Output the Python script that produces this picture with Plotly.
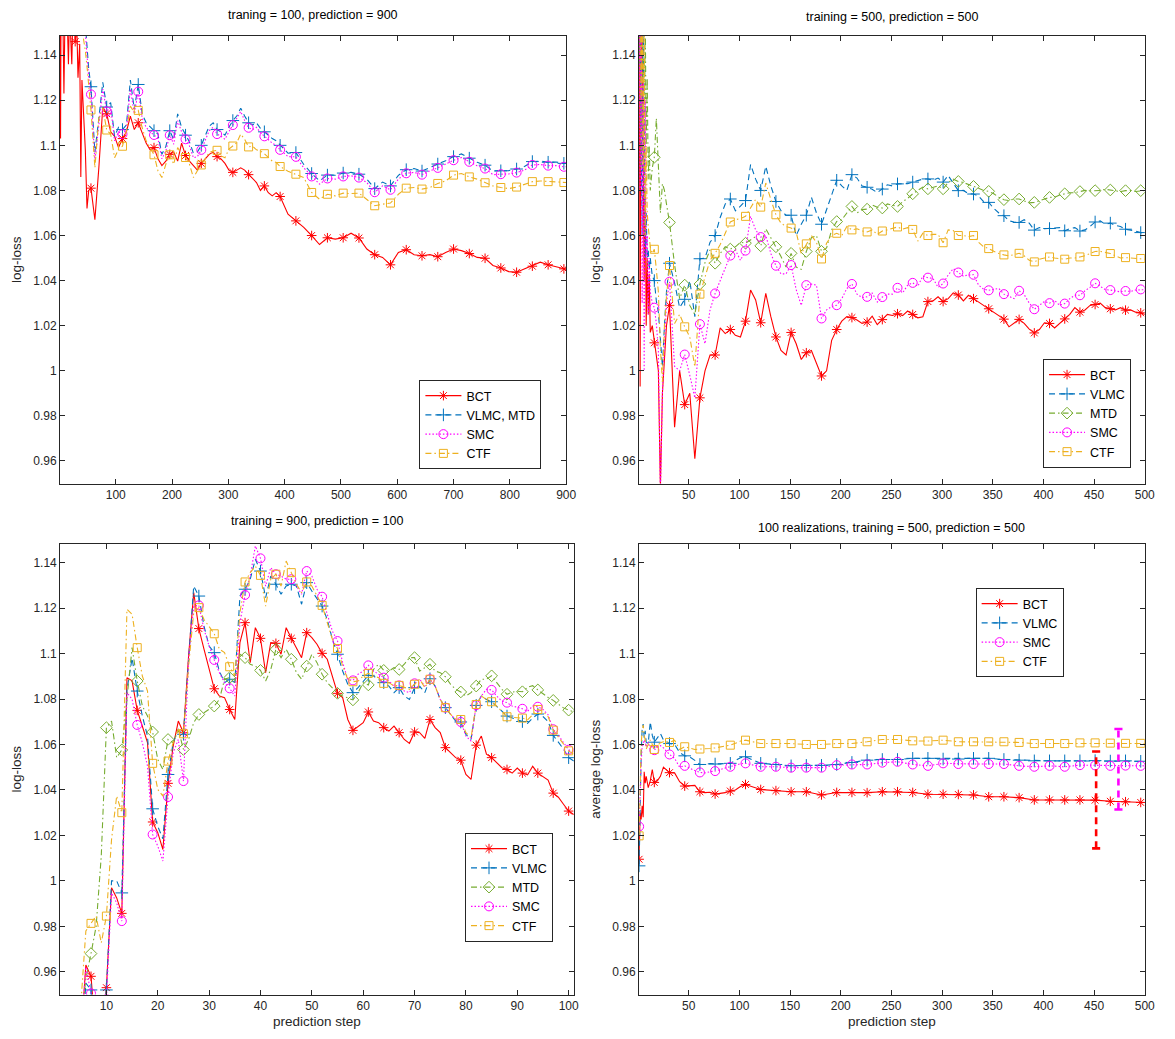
import plotly.graph_objects as go

# ---------------- tick marks ----------------
y_ticks = [0.96, 0.98, 1.0, 1.02, 1.04, 1.06, 1.08, 1.1, 1.12, 1.14]
y_ticklabels = ["0.96", "0.98", "1", "1.02", "1.04", "1.06", "1.08", "1.1", "1.12", "1.14"]
tl_xticks = [100, 200, 300, 400, 500, 600, 700, 800, 900]
tr_xticks = [50, 100, 150, 200, 250, 300, 350, 400, 450, 500]
bl_xticks = [10, 20, 30, 40, 50, 60, 70, 80, 90, 100]

# ---------------- panel 1: training 100 / prediction 900 ----------------
tl_x = ([1, 2, 3, 6, 8, 10, 14, 16, 18, 22, 24, 26, 28, 31, 33, 36, 38, 40, 43, 46, 49, 52]
        + list(range(56, 393, 7)) + list(range(406, 897, 14)) + [900])

tl_bct = [1.20, 1.103, 1.17, 1.16, 1.123, 1.16, 1.155, 1.136, 1.16, 1.136, 1.16, 1.155, 1.146,
          1.152, 1.13, 1.145, 1.086, 1.129, 1.115, 1.098, 1.072, 1.080,
          1.081, 1.067, 1.090, 1.117, 1.114, 1.106, 1.104,
          1.099, 1.103, 1.106, 1.113, 1.107, 1.110, 1.105,
          1.101, 1.098, 1.099, 1.094, 1.091, 1.093, 1.096,
          1.097, 1.093, 1.101, 1.0955, 1.093, 1.091, 1.089,
          1.092, 1.094, 1.096, 1.097, 1.095, 1.094, 1.092,
          1.089, 1.088, 1.089, 1.090, 1.089, 1.087, 1.085,
          1.0835, 1.080, 1.082, 1.079, 1.0776, 1.079, 1.0773,
          1.0695, 1.0665, 1.0636, 1.060, 1.056, 1.059, 1.0584, 1.059, 1.061, 1.0589,
          1.054, 1.0515, 1.0503, 1.047, 1.0525, 1.0537, 1.0515, 1.051, 1.0515, 1.0506,
          1.0525, 1.054, 1.0533, 1.052, 1.0503, 1.0499, 1.0467, 1.0456, 1.044, 1.0437,
          1.0452, 1.0464, 1.0482, 1.047, 1.046, 1.0452,
          1.045]

tl_vlmc = [1.304, 1.284, 1.264, 1.244, 1.234, 1.224, 1.214, 1.204, 1.204, 1.194, 1.194, 1.184, 1.184,
           1.179, 1.174, 1.169, 1.169, 1.164, 1.16, 1.154, 1.144, 1.134,
           1.126, 1.097, 1.112, 1.128, 1.117, 1.119, 1.104,
           1.108, 1.107, 1.109, 1.129, 1.116, 1.127, 1.114,
           1.110, 1.108, 1.1065, 1.105, 1.096, 1.0995, 1.1065,
           1.1025, 1.114, 1.108, 1.1045, 1.1015, 1.0965, 1.097,
           1.100, 1.104, 1.1085, 1.110, 1.107, 1.106, 1.1045,
           1.108, 1.111, 1.113, 1.1165, 1.113, 1.110, 1.109,
           1.110, 1.1075, 1.106, 1.1045, 1.103, 1.102, 1.100,
           1.0965, 1.0968, 1.0915, 1.0875, 1.0843, 1.0868, 1.0867, 1.0877, 1.088, 1.0872,
           1.085, 1.0808, 1.0837, 1.082, 1.0867, 1.0892, 1.0897, 1.0886, 1.0903, 1.0917,
           1.0932, 1.095, 1.0962, 1.0943, 1.0925, 1.0912, 1.0886, 1.0887, 1.0888, 1.0895,
           1.0906, 1.0928, 1.093, 1.0925, 1.0926, 1.092,
           1.092]

tl_smc = [1.30, 1.28, 1.26, 1.24, 1.23, 1.22, 1.21, 1.20, 1.20, 1.19, 1.19, 1.18, 1.18,
          1.175, 1.17, 1.165, 1.165, 1.16, 1.156, 1.15, 1.14, 1.13,
          1.1226, 1.093, 1.109, 1.125, 1.115, 1.117, 1.102,
          1.106, 1.105, 1.107, 1.125, 1.114, 1.1238, 1.112,
          1.108, 1.106, 1.1046, 1.103, 1.094, 1.0975, 1.1045,
          1.1005, 1.111, 1.106, 1.1027, 1.0997, 1.0945, 1.095,
          1.098, 1.102, 1.1065, 1.108, 1.105, 1.104, 1.1027,
          1.106, 1.109, 1.1115, 1.115, 1.111, 1.1078, 1.107,
          1.108, 1.1056, 1.104, 1.1027, 1.101, 1.100, 1.098,
          1.095, 1.0949, 1.090, 1.0862, 1.0828, 1.0853, 1.085, 1.0862, 1.0865, 1.0857,
          1.0835, 1.0792, 1.082, 1.0803, 1.085, 1.0876, 1.088, 1.087, 1.0887, 1.090,
          1.0916, 1.0934, 1.0946, 1.0927, 1.0909, 1.0897, 1.087, 1.0872, 1.0873, 1.0879,
          1.089, 1.0913, 1.0915, 1.091, 1.091, 1.0905,
          1.0905]

tl_ctf = [1.29, 1.27, 1.25, 1.23, 1.22, 1.21, 1.20, 1.19, 1.19, 1.18, 1.18, 1.175, 1.17,
          1.165, 1.16, 1.158, 1.155, 1.152, 1.148, 1.142, 1.135, 1.128,
          1.1157, 1.090, 1.112, 1.1167, 1.1068, 1.105, 1.0945,
          1.0983, 1.0996, 1.1064, 1.1174, 1.1145, 1.1155, 1.1078,
          1.102, 1.099, 1.0958, 1.0887, 1.0857, 1.0916, 1.0958,
          1.0916, 1.099, 1.096, 1.0946, 1.0916, 1.0857, 1.0887,
          1.0913, 1.0938, 1.0968, 1.0975, 1.0978, 1.0953, 1.0945,
          1.0983, 1.0997, 1.1012, 1.105, 1.1027, 1.0993, 1.0997,
          1.098, 1.0975, 1.0963, 1.0945, 1.093, 1.0924, 1.0906,
          1.0885, 1.0872, 1.0857, 1.0791, 1.0761, 1.0783, 1.0776, 1.0788, 1.0786, 1.0788,
          1.0761, 1.0732, 1.0739, 1.0744, 1.0783, 1.081, 1.0813, 1.0806, 1.0813, 1.0831,
          1.0842, 1.0868, 1.0875, 1.086, 1.085, 1.0834, 1.082, 1.0813, 1.0808, 1.0815,
          1.0828, 1.0839, 1.0842, 1.0839, 1.0838, 1.0835,
          1.0835]

# ---------------- panel 2: training 500 / prediction 500 ----------------
tr_x = [1, 2, 3, 4, 5, 6, 7, 8, 9, 10, 11, 12, 14, 16, 18, 20, 22, 24, 26, 28] + list(range(31, 497, 5)) + [500]

tr_bct = [1.16, 0.993, 1.16, 1.15, 1.10, 1.04, 1.08, 1.02, 1.05, 1.025, 1.043, 1.017, 1.02, 1.0124,
          1.005, 1.000, 0.948, 0.99, 1.005, 1.02,
          1.029, 0.975, 1.000, 0.985, 0.99, 0.961, 0.988, 1.0, 1.007, 1.007,
          1.019, 1.0165, 1.0183, 1.0157, 1.015, 1.022, 1.0358, 1.0314, 1.0213, 1.0343,
          1.024, 1.015, 1.009, 1.007, 1.017, 1.012, 1.005, 1.008, 1.009, 1.003,
          0.9977, 1.0, 1.0135, 1.0183, 1.022, 1.024,
          1.0236, 1.0225, 1.021, 1.0216, 1.0242, 1.0205, 1.0227, 1.025, 1.0245, 1.0253,
          1.0245, 1.0265, 1.025, 1.0235, 1.024, 1.0307, 1.031, 1.0328, 1.0307, 1.032,
          1.0345, 1.0336, 1.031, 1.0335, 1.032, 1.0305, 1.0287, 1.0275, 1.0257, 1.0245,
          1.0229, 1.0195, 1.021, 1.0228, 1.021, 1.0185, 1.0168, 1.0183, 1.0213, 1.021,
          1.019, 1.021, 1.023, 1.025, 1.028, 1.026, 1.027, 1.029, 1.0294, 1.030,
          1.028, 1.0275, 1.027, 1.028, 1.0269, 1.027, 1.026, 1.0257,
          1.025]

tr_vlmc = [1.20, 1.16, 1.10, 1.06, 1.16, 1.09, 1.05, 1.07, 1.05, 1.054, 1.045, 1.05, 1.042, 1.040,
           1.031, 1.026, 1.015, 1.002, 1.020, 1.035,
           1.0477, 1.039, 1.028, 1.0317, 1.040, 1.024, 1.0497, 1.050, 1.057, 1.060,
           1.068, 1.074, 1.0762, 1.071, 1.073, 1.0755, 1.0915, 1.085, 1.080, 1.0907,
           1.082, 1.0751, 1.071, 1.069, 1.069, 1.060, 1.065, 1.069, 1.077, 1.070,
           1.065, 1.072, 1.078, 1.0845, 1.082, 1.080,
           1.087, 1.0855, 1.082, 1.0814, 1.0805, 1.079, 1.0806, 1.0825, 1.082, 1.0829,
           1.083, 1.083, 1.0837, 1.0845, 1.085, 1.0851, 1.0845, 1.0855, 1.0837, 1.0866,
           1.0835, 1.0799, 1.080, 1.0785, 1.0784, 1.0775, 1.075, 1.0747, 1.072, 1.070,
           1.0688, 1.0665, 1.066, 1.0658, 1.067, 1.0655, 1.0624, 1.0635, 1.063, 1.0631,
           1.0635, 1.0635, 1.0621, 1.063, 1.0635, 1.062, 1.0625, 1.064, 1.066, 1.0665,
           1.065, 1.0655, 1.0645, 1.064, 1.0628, 1.0625, 1.062, 1.0613,
           1.0608]

tr_mtd = [1.1355, 1.16, 1.09, 1.16, 1.12, 1.075, 1.16, 1.10, 1.13, 1.085, 1.10, 1.08, 1.09, 1.0947,
          1.112, 1.09, 1.07, 1.083, 1.080, 1.074,
          1.0658, 1.047, 1.032, 1.038, 1.029, 1.025, 1.0385, 1.048, 1.0536, 1.0477,
          1.052, 1.055, 1.054, 1.055, 1.057, 1.0566, 1.058, 1.0595, 1.0554, 1.063,
          1.059, 1.055, 1.0507, 1.046, 1.0521, 1.046, 1.045, 1.0529, 1.059, 1.060,
          1.053, 1.0545, 1.0625, 1.0662, 1.067, 1.070,
          1.0729, 1.070, 1.0715, 1.0717, 1.0735, 1.0725, 1.0722, 1.074, 1.0735, 1.0729,
          1.075, 1.0765, 1.0785, 1.080, 1.0815, 1.0807, 1.0815, 1.082, 1.0807, 1.0835,
          1.085, 1.084, 1.0835, 1.0825, 1.0818, 1.081, 1.080, 1.0796, 1.0785, 1.077,
          1.0759, 1.0755, 1.0762, 1.0762, 1.0755, 1.0745, 1.0747, 1.0755, 1.076, 1.0769,
          1.077, 1.078, 1.0785, 1.079, 1.079, 1.0795, 1.080, 1.0798, 1.0799, 1.080,
          1.0805, 1.0802, 1.080, 1.0795, 1.0799, 1.080, 1.0795, 1.0799,
          1.080]

tr_smc = [1.20, 1.08, 1.16, 1.03, 1.13, 1.00, 1.12, 1.05, 1.06, 1.025, 1.05, 1.035, 1.03, 1.028,
          1.021, 1.009, 0.945, 0.99, 1.012, 1.03,
          1.0395, 1.002, 1.000, 1.0072, 0.998, 0.988, 1.0207, 1.012, 1.027, 1.0343,
          1.040, 1.046, 1.0511, 1.0536, 1.049, 1.0533, 1.0685, 1.0625, 1.0593, 1.060,
          1.052, 1.0466, 1.043, 1.043, 1.0469, 1.036, 1.029, 1.038, 1.0385, 1.038,
          1.0232, 1.027, 1.0285, 1.0291, 1.032, 1.0365,
          1.0385, 1.034, 1.0325, 1.0328, 1.0345, 1.0305, 1.0327, 1.034, 1.034, 1.0368,
          1.0345, 1.038, 1.039, 1.0375, 1.042, 1.0413, 1.041, 1.037, 1.0387, 1.0425,
          1.0453, 1.0436, 1.042, 1.0425, 1.0426, 1.038, 1.0362, 1.0357, 1.036, 1.0365,
          1.034, 1.033, 1.032, 1.0355, 1.0338, 1.030, 1.0273, 1.029, 1.0308, 1.03,
          1.0312, 1.029, 1.0298, 1.032, 1.0335, 1.0335, 1.0355, 1.037, 1.0388, 1.0375,
          1.036, 1.0358, 1.0355, 1.035, 1.0354, 1.0352, 1.0358, 1.0361,
          1.036]

tr_ctf = [1.25, 1.16, 1.12, 1.18, 1.09, 1.16, 1.06, 1.10, 1.07, 1.064, 1.06, 1.055, 1.052, 1.0539,
          1.045, 1.035, 1.01, 0.995, 1.02, 1.033,
          1.0467, 1.021, 1.025, 1.0195, 1.015, 1.0017, 1.034, 1.041, 1.049, 1.0521,
          1.056, 1.061, 1.066, 1.067, 1.0675, 1.0685, 1.072, 1.076, 1.0726, 1.0833,
          1.076, 1.0692, 1.0655, 1.064, 1.0633, 1.0615, 1.052, 1.0563, 1.060, 1.057,
          1.0496, 1.0566, 1.060, 1.061, 1.060, 1.064,
          1.0625, 1.063, 1.062, 1.0616, 1.0625, 1.0605, 1.062, 1.0625, 1.063, 1.0638,
          1.0628, 1.0635, 1.0627, 1.0575, 1.061, 1.060, 1.0605, 1.0605, 1.0568, 1.0625,
          1.0622, 1.060, 1.060, 1.0595, 1.060, 1.057, 1.055, 1.0542, 1.053, 1.052,
          1.0514, 1.051, 1.0515, 1.0521, 1.051, 1.049, 1.0483, 1.0495, 1.050, 1.0505,
          1.050, 1.0498, 1.0495, 1.050, 1.050, 1.0505, 1.051, 1.052, 1.0529, 1.053,
          1.0525, 1.052, 1.051, 1.050, 1.0502, 1.050, 1.0498, 1.0498,
          1.0495]

# ---------------- panel 3: training 900 / prediction 100 ----------------
bl_x = list(range(1, 102))

bl_bct = [0.90, 0.90, 0.90, 0.90, 0.93, 0.963, 0.958, 0.93, 0.93, 0.953,
          0.997, 0.9925, 0.9857, 1.0894, 1.088, 1.075, 1.068, 1.0608, 1.0259, 1.0212,
          1.0138, 1.0429, 1.0593, 1.0703, 1.0652, 1.0989, 1.1268, 1.111, 1.1019, 1.093,
          1.0845, 1.0813, 1.0806, 1.0754, 1.071, 1.1048, 1.1136, 1.096, 1.1114, 1.1067,
          1.0916, 1.1048, 1.1045, 1.0997, 1.1114, 1.1067, 1.1026, 1.0982, 1.1092, 1.107,
          1.1041, 1.1001, 1.0975, 1.0901, 1.0825, 1.0806, 1.071, 1.0662, 1.0681, 1.0696,
          1.0743, 1.0703, 1.0696, 1.0674, 1.0659, 1.0681, 1.0652, 1.0622, 1.0605, 1.0655,
          1.0652, 1.0627, 1.071, 1.0674, 1.0652, 1.0586, 1.0564, 1.0542, 1.0531, 1.0468,
          1.0446, 1.0597, 1.0637, 1.0557, 1.0542, 1.052, 1.0498, 1.049, 1.0474, 1.0496,
          1.0474, 1.0466, 1.0504, 1.0474, 1.0458, 1.0443, 1.0386, 1.0368, 1.0337, 1.0307,
          1.0292]

bl_vlmc = [0.90, 0.90, 0.90, 0.90, 0.92, 0.955, 0.952, 0.93, 0.93, 0.952,
           1.0, 1.0, 0.9947, 1.084, 1.098, 1.0835, 1.0725, 1.0637, 1.0317, 1.024,
           1.0185, 1.0468, 1.0608, 1.0666, 1.0645, 1.0975, 1.1297, 1.1253, 1.1121, 1.1033,
           1.1004, 1.0923, 1.0872, 1.0887, 1.0872, 1.1253, 1.1283, 1.1327, 1.1415, 1.1363,
           1.1246, 1.1341, 1.1305, 1.1261, 1.1297, 1.1305, 1.1297, 1.1217, 1.1312, 1.1275,
           1.1239, 1.1209, 1.115, 1.1063, 1.0997, 1.0923, 1.0865, 1.0828, 1.085, 1.0879,
           1.0904, 1.0901, 1.0887, 1.0872, 1.0857, 1.0828, 1.085, 1.0813, 1.0798, 1.085,
           1.0857, 1.0828, 1.0889, 1.0857, 1.0798, 1.0762, 1.0733, 1.0703, 1.0699, 1.0644,
           1.0622, 1.0772, 1.0813, 1.0798, 1.0788, 1.0769, 1.0747, 1.0725, 1.0716, 1.0708,
           1.0701, 1.0693, 1.0716, 1.0734, 1.0723, 1.0701, 1.064, 1.061, 1.058, 1.0542,
           1.0527]

bl_mtd = [0.90, 0.90, 0.90, 0.90, 0.935, 0.957, 0.968, 0.98, 1.011, 1.0674,
          1.0703, 1.0542, 1.0576, 1.0799, 1.1026, 1.0879, 1.0769, 1.0725, 1.0655, 1.0534,
          1.049, 1.0622, 1.0608, 1.0666, 1.0578, 1.0622, 1.0696, 1.0732, 1.074, 1.0755,
          1.0769, 1.0798, 1.0887, 1.0894, 1.0872, 1.0997, 1.0982, 1.0953, 1.0945, 1.0926,
          1.0879, 1.093, 1.1019, 1.0982, 1.1019, 1.0975, 1.0916, 1.0887, 1.0945, 1.0997,
          1.096, 1.0909, 1.0872, 1.085, 1.0825, 1.0813, 1.0806, 1.0796, 1.0828, 1.0872,
          1.0862, 1.093, 1.0953, 1.0926, 1.0923, 1.0938, 1.093, 1.0953, 1.0982, 1.0982,
          1.0923, 1.0938, 1.0953, 1.0923, 1.0916, 1.0898, 1.0865, 1.0843, 1.0831, 1.0813,
          1.0828, 1.0857, 1.0887, 1.0887, 1.0902, 1.0872, 1.0843, 1.0821, 1.083, 1.0834,
          1.0832, 1.0852, 1.0859, 1.084, 1.0822, 1.0807, 1.0794, 1.0776, 1.0761, 1.0751,
          1.0743]

bl_smc = [0.90, 0.90, 0.90, 0.90, 0.93, 0.962, 0.9505, 0.94, 0.94, 0.948,
          0.9947, 0.9903, 0.9823, 1.0828, 1.0799, 1.0686, 1.0608, 1.0505, 1.0204, 1.0153,
          1.0087, 1.0369, 1.0564, 1.0622, 1.0439, 1.0975, 1.1209, 1.1212, 1.1107, 1.1033,
          1.0972, 1.0916, 1.0872, 1.0847, 1.0813, 1.1136, 1.1258, 1.1341, 1.1473, 1.1419,
          1.1297, 1.1378, 1.1349, 1.1341, 1.1327, 1.1327, 1.1297, 1.1261, 1.1363, 1.1341,
          1.1283, 1.125, 1.1173, 1.1099, 1.1055, 1.096, 1.0887, 1.0882, 1.0909, 1.0923,
          1.0948, 1.0923, 1.0909, 1.0894, 1.0879, 1.0857, 1.086, 1.0835, 1.0828, 1.0869,
          1.0887, 1.0857, 1.0887, 1.0857, 1.0798, 1.0762, 1.0733, 1.071, 1.0699, 1.0637,
          1.0615, 1.0773, 1.0813, 1.0843, 1.084, 1.0813, 1.0791, 1.0784, 1.0769, 1.0764,
          1.0757, 1.0746, 1.0769, 1.0766, 1.0754, 1.0731, 1.0667, 1.064, 1.061, 1.0577,
          1.0564]

bl_ctf = [0.90, 0.90, 0.90, 0.90, 0.945, 0.978, 0.9813, 0.9845, 0.9727, 0.9845,
          1.0182, 1.0373, 1.03, 1.1195, 1.1173, 1.1026, 1.0901, 1.0835, 1.0517, 1.0402,
          1.0373, 1.0527, 1.0608, 1.0666, 1.0647, 1.0945, 1.118, 1.1202, 1.115, 1.1121,
          1.1087, 1.1019, 1.1004, 1.0942, 1.0901, 1.118, 1.1315, 1.1356, 1.1385, 1.1344,
          1.1209, 1.1327, 1.1349, 1.1297, 1.1407, 1.1356, 1.1305, 1.1268, 1.1315, 1.1297,
          1.1253, 1.1212, 1.1136, 1.1063, 1.1022, 1.0945, 1.0887, 1.0876, 1.0879, 1.0901,
          1.0913, 1.0901, 1.0894, 1.0869, 1.0872, 1.0857, 1.086, 1.085, 1.0843, 1.0865,
          1.0887, 1.085, 1.0887, 1.0857, 1.0798, 1.0762, 1.0733, 1.071, 1.071, 1.0652,
          1.063, 1.0776, 1.0813, 1.0798, 1.0788, 1.0769, 1.0747, 1.0722, 1.0719, 1.0716,
          1.0716, 1.0708, 1.0731, 1.0754, 1.0746, 1.0723, 1.0663, 1.0633, 1.0602, 1.0572,
          1.0557]

# ---------------- panel 4: 100 realizations, averaged ----------------
br_x = [1, 2, 3, 4, 5, 6, 7, 8, 10, 12, 14, 16, 19, 22, 25, 28] + list(range(31, 107, 5)) + list(range(121, 497, 15)) + [500]

br_bct = [1.0095, 1.030, 1.027, 1.033, 1.028, 1.048, 1.043, 1.046, 1.041, 1.044, 1.049, 1.0433, 1.044, 1.046, 1.050, 1.049,
          1.0476, 1.0475, 1.0436, 1.0417, 1.042, 1.042, 1.0392, 1.0388, 1.039, 1.0382, 1.0385, 1.0388, 1.0395, 1.040, 1.0415, 1.0424,
          1.0402, 1.0397, 1.0392, 1.0392, 1.0378, 1.0389, 1.0389, 1.0388, 1.0392, 1.0392, 1.0389, 1.0381, 1.0381,
          1.038, 1.0378, 1.037, 1.037, 1.0366, 1.0356, 1.0356, 1.0356, 1.0356, 1.0355, 1.035, 1.0348, 1.0345,
          1.0345]

br_vlmc = [1.0066, 1.035, 1.055, 1.067, 1.069, 1.063, 1.066, 1.061, 1.0605, 1.070, 1.064, 1.061, 1.063, 1.0648, 1.062, 1.061,
           1.0604, 1.060, 1.0565, 1.055, 1.0545, 1.053, 1.0512, 1.0512, 1.0516, 1.0514, 1.0515, 1.0515, 1.0517, 1.053, 1.0542, 1.0546,
           1.0517, 1.0512, 1.0506, 1.0508, 1.0508, 1.0512, 1.0521, 1.0531, 1.0534, 1.0534, 1.0539, 1.0539, 1.0536,
           1.0536, 1.0539, 1.0539, 1.0534, 1.0531, 1.0528, 1.0528, 1.0528, 1.0528, 1.0529, 1.0527, 1.0528, 1.0526,
           1.0526]

br_smc = [1.0239, 1.04, 1.052, 1.059, 1.060, 1.062, 1.061, 1.059, 1.061, 1.058, 1.0595, 1.0575, 1.059, 1.0595, 1.0585, 1.057,
          1.0556, 1.0539, 1.050, 1.0506, 1.0495, 1.0485, 1.0477, 1.0475, 1.048, 1.0483, 1.049, 1.0497, 1.0502, 1.051, 1.0515, 1.0517,
          1.0502, 1.0502, 1.0498, 1.0498, 1.0498, 1.0509, 1.0512, 1.0512, 1.052, 1.0524, 1.0512, 1.0506, 1.0517,
          1.0514, 1.0514, 1.0514, 1.0514, 1.0506, 1.0502, 1.0506, 1.0502, 1.0509, 1.0508, 1.0506, 1.0507, 1.0506,
          1.0506]

br_ctf = [1.0198, 1.045, 1.060, 1.066, 1.0685, 1.064, 1.062, 1.058, 1.060, 1.062, 1.060, 1.0578, 1.0595, 1.0608, 1.0612, 1.061,
          1.0609, 1.0619, 1.0578, 1.059, 1.0585, 1.0578, 1.058, 1.058, 1.0582, 1.0585, 1.0588, 1.0593, 1.0597, 1.0605, 1.0615, 1.0619,
          1.0604, 1.0604, 1.0604, 1.060, 1.060, 1.0604, 1.0604, 1.0612, 1.0622, 1.0622, 1.0616, 1.0615, 1.0619,
          1.0612, 1.0612, 1.0612, 1.0612, 1.0609, 1.0604, 1.0604, 1.0604, 1.0607, 1.0607, 1.0606, 1.0605, 1.0605,
          1.0604]

# spread over the 100 realizations (mean +/- one standard deviation)
br_err_x = [452, 474]
br_err_mean = [1.0356, 1.0491]
br_err_sd = [0.0213, 0.0177]
br_err_names = ["BCT", "SMC"]

# ---------------- styling ----------------
FONT = "Liberation Sans, Arial, sans-serif"
INK = "#262626"

STYLE = {
    "BCT":  dict(color="#FF0000", dash="solid", symbol="asterisk-open", size=8),
    "VLMC": dict(color="#0072BD", dash="6px,4px", symbol="cross-thin-open", size=9),
    "MTD":  dict(color="#77AC30", dash="6px,3px,1.5px,3px", symbol="diamond-open", size=9),
    "SMC":  dict(color="#FF00FF", dash="1.5px,2px", symbol="circle-open", size=9),
    "CTF":  dict(color="#EDB120", dash="6px,3px,1.5px,3px", symbol="square-open", size=8),
}

fig = go.Figure()


def add_series(xs, ys, key, label, xa, ya, legend, pick):
    assert len(xs) == len(ys), (label, xa, len(xs), len(ys))
    st = STYLE[key]
    line = dict(color=st["color"], width=1.1, dash=st["dash"])
    marker = dict(symbol=st["symbol"], size=st["size"], color=st["color"], line=dict(width=1, color=st["color"]))
    fig.add_trace(go.Scatter(x=xs, y=ys, mode="lines", line=line, xaxis=xa, yaxis=ya,
                             showlegend=False, hoverinfo="skip"))
    mx = [x for x in xs if pick(x)]
    my = [y for x, y in zip(xs, ys) if pick(x)]
    fig.add_trace(go.Scatter(x=mx, y=my, mode="markers", marker=marker, xaxis=xa, yaxis=ya,
                             showlegend=False, hoverinfo="skip"))
    fig.add_trace(go.Scatter(x=[None], y=[None], mode="lines+markers", name=label, line=line,
                             marker=marker, xaxis=xa, yaxis=ya, legend=legend))


every28 = lambda x: x % 28 == 0
every15 = lambda x: (x - 1) % 15 == 0
every3 = lambda x: (x - 1) % 3 == 0

add_series(tl_x, tl_bct, "BCT", "BCT", "x", "y", "legend", every28)
add_series(tl_x, tl_vlmc, "VLMC", "VLMC, MTD", "x", "y", "legend", every28)
add_series(tl_x, tl_smc, "SMC", "SMC", "x", "y", "legend", every28)
add_series(tl_x, tl_ctf, "CTF", "CTF", "x", "y", "legend", every28)

add_series(tr_x, tr_bct, "BCT", "BCT", "x2", "y2", "legend2", every15)
add_series(tr_x, tr_vlmc, "VLMC", "VLMC", "x2", "y2", "legend2", every15)
add_series(tr_x, tr_mtd, "MTD", "MTD", "x2", "y2", "legend2", every15)
add_series(tr_x, tr_smc, "SMC", "SMC", "x2", "y2", "legend2", every15)
add_series(tr_x, tr_ctf, "CTF", "CTF", "x2", "y2", "legend2", every15)

add_series(bl_x, bl_bct, "BCT", "BCT", "x3", "y3", "legend3", every3)
add_series(bl_x, bl_vlmc, "VLMC", "VLMC", "x3", "y3", "legend3", every3)
add_series(bl_x, bl_mtd, "MTD", "MTD", "x3", "y3", "legend3", every3)
add_series(bl_x, bl_smc, "SMC", "SMC", "x3", "y3", "legend3", every3)
add_series(bl_x, bl_ctf, "CTF", "CTF", "x3", "y3", "legend3", every3)

add_series(br_x, br_bct, "BCT", "BCT", "x4", "y4", "legend4", every15)
add_series(br_x, br_vlmc, "VLMC", "VLMC", "x4", "y4", "legend4", every15)
add_series(br_x, br_smc, "SMC", "SMC", "x4", "y4", "legend4", every15)
add_series(br_x, br_ctf, "CTF", "CTF", "x4", "y4", "legend4", every15)

# error bars: dashed stem with solid caps
CAP = 4.0
for ex, em, es, nm in zip(br_err_x, br_err_mean, br_err_sd, br_err_names):
    col = STYLE[nm]["color"]
    lo, hi = em - es, em + es
    fig.add_trace(go.Scatter(x=[ex, ex], y=[lo, hi], mode="lines", xaxis="x4", yaxis="y4",
                             line=dict(color=col, width=2.6, dash="7px,5px"), showlegend=False, hoverinfo="skip"))
    fig.add_trace(go.Scatter(x=[ex - CAP, ex + CAP, None, ex - CAP, ex + CAP], y=[lo, lo, None, hi, hi],
                             mode="lines", xaxis="x4", yaxis="y4", line=dict(color=col, width=2.6),
                             showlegend=False, hoverinfo="skip"))


def xaxis(domain, rng, ticks, anchor, title=None):
    d = dict(domain=domain, range=rng, tickvals=ticks, anchor=anchor,
             showline=True, linecolor=INK, linewidth=1, mirror="ticks", ticks="inside",
             ticklen=5, tickcolor=INK, tickfont=dict(size=12, color=INK, family=FONT),
             showgrid=False, zeroline=False)
    if title:
        d["title"] = dict(text=title, font=dict(size=13.5, color=INK, family=FONT), standoff=4)
    return d


def yaxis(domain, rng, anchor, title):
    return dict(domain=domain, range=rng, tickvals=y_ticks, ticktext=y_ticklabels, anchor=anchor,
                showline=True, linecolor=INK, linewidth=1, mirror="ticks", ticks="inside",
                ticklen=5, tickcolor=INK, tickfont=dict(size=12, color=INK, family=FONT),
                showgrid=False, zeroline=False,
                title=dict(text=title, font=dict(size=13.5, color=INK, family=FONT), standoff=8))


W, H = 1175, 1039
top_dom = [1 - 483.5 / H, 1 - 36 / H]
bot_dom = [1 - 994.5 / H, 1 - 544 / H]
top_rng = [0.95, 1.1485]
bot_rng = [0.95, 1.1482]


def legend_at(px, py):
    return dict(x=px / W, y=1 - py / H, xanchor="left", yanchor="top", bgcolor="white",
                bordercolor=INK, borderwidth=1, font=dict(size=12.5, color="black", family=FONT),
                itemwidth=36, tracegroupgap=0)


titles = [
    ("traning = 100, prediction = 900", 315.5, 15),
    ("training = 500, prediction = 500", 899.5, 17),
    ("training = 900, prediction = 100", 319.5, 521),
    ("100 realizations, training = 500, prediction = 500", 899.5, 528),
]

fig.update_layout(
    width=W, height=H, margin=dict(l=0, r=0, t=0, b=0),
    paper_bgcolor="white", plot_bgcolor="white",
    font=dict(family=FONT, color=INK),
    xaxis=xaxis([60.5 / W, 571 / W], [1, 900], tl_xticks, "y"),
    yaxis=yaxis(top_dom, top_rng, "x", "log-loss"),
    xaxis2=xaxis([644.6 / W, 1154.6 / W], [1, 500], tr_xticks, "y2"),
    yaxis2=yaxis(top_dom, top_rng, "x2", "log-loss"),
    xaxis3=xaxis([60.7 / W, 578.7 / W], [1, 101], bl_xticks, "y3", "prediction step"),
    yaxis3=yaxis(bot_dom, bot_rng, "x3", "log-loss"),
    xaxis4=xaxis([644.6 / W, 1154.6 / W], [1, 500], tr_xticks, "y4", "prediction step"),
    yaxis4=yaxis(bot_dom, bot_rng, "x4", "average log-loss"),
    legend=legend_at(423, 380),
    legend2=legend_at(1052, 359),
    legend3=legend_at(469, 833),
    legend4=legend_at(984, 588),
    annotations=[dict(text=t, x=cx / W, y=1 - cy / H, xref="paper", yref="paper", showarrow=False,
                      xanchor="center", yanchor="middle", font=dict(size=12.5, color="black", family=FONT))
                 for t, cx, cy in titles],
    showlegend=True,
)

fig.write_html("out.html")
